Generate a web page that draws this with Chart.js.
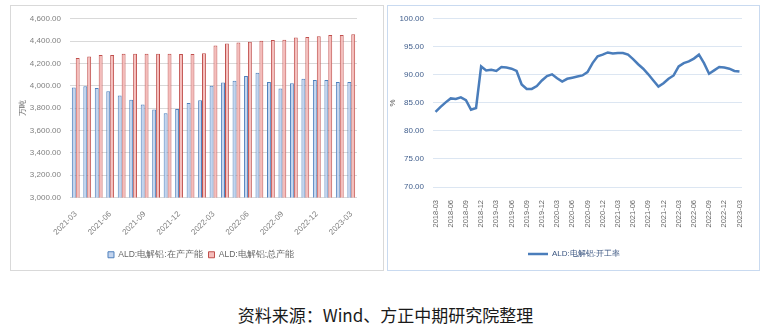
<!DOCTYPE html>
<html>
<head>
<meta charset="utf-8">
<script src="https://cdn.jsdelivr.net/npm/chart.js@4.4.0/dist/chart.umd.min.js"></script>
<style>
body{margin:0;background:#fff;width:771px;height:330px;position:relative;overflow:hidden;font-family:"Noto Sans CJK SC",sans-serif;}
.frame{position:absolute;box-sizing:border-box;}
canvas{position:absolute;}
#capFrame{left:10px;top:5px;width:374px;height:266px;border:1px solid #d9d9d9;}
#rateFrame{left:387px;top:5px;width:373px;height:266px;border:1px solid #c9daf0;}
#capChart{left:10px;top:5px;}
#rateChart{left:387px;top:5px;}
#source{position:absolute;left:0;width:771px;top:305px;line-height:20px;text-align:center;font-size:17px;color:#1a1a1a;}
</style>
</head>
<body>
<div class="frame" id="capFrame"></div>
<div class="frame" id="rateFrame"></div>
<canvas id="capChart" width="374" height="266"></canvas>
<canvas id="rateChart" width="373" height="266"></canvas>
<div id="source">资料来源：Wind、方正中期研究院整理</div>
<script>
// 电解铝产能（万吨），月度
var capMonths = ['2021-03','2021-04','2021-05','2021-06','2021-07','2021-08','2021-09','2021-10','2021-11','2021-12',
  '2022-01','2022-02','2022-03','2022-04','2022-05','2022-06','2022-07','2022-08','2022-09','2022-10','2022-11','2022-12',
  '2023-01','2023-02','2023-03'];
var runningCap = [3986,3995,3980,3951,3914,3876,3833,3787,3755,3793,3845,3871,4000,4029,4046,4087,4118,4035,3975,4023,4064,4052,4052,4035,4035];
var totalCap = [4248,4263,4277,4277,4286,4286,4286,4286,4286,4284,4284,4291,4361,4378,4387,4395,4404,4410,4412,4433,4438,4444,4456,4456,4462];

// 电解铝开工率（%），月度
var rateMonths = ['2018-03','2018-04','2018-05','2018-06','2018-07','2018-08','2018-09','2018-10','2018-11','2018-12',
  '2019-01','2019-02','2019-03','2019-04','2019-05','2019-06','2019-07','2019-08','2019-09','2019-10','2019-11','2019-12',
  '2020-01','2020-02','2020-03','2020-04','2020-05','2020-06','2020-07','2020-08','2020-09','2020-10','2020-11','2020-12',
  '2021-01','2021-02','2021-03','2021-04','2021-05','2021-06','2021-07','2021-08','2021-09','2021-10','2021-11','2021-12',
  '2022-01','2022-02','2022-03','2022-04','2022-05','2022-06','2022-07','2022-08','2022-09','2022-10','2022-11','2022-12',
  '2023-01','2023-02','2023-03'];
var runRate = [83.4,84.3,85.1,85.8,85.7,86.0,85.5,83.8,84.1,91.5,
  90.8,90.9,90.7,91.4,91.3,91.1,90.7,88.3,87.5,87.5,88.0,89.0,
  89.8,90.1,89.4,88.8,89.3,89.5,89.7,89.9,90.5,92.1,93.3,93.6,
  94.0,93.8,93.9,93.9,93.6,92.8,91.9,91.1,90.1,89.0,87.9,88.5,
  89.3,89.9,91.5,92.1,92.4,92.9,93.6,92.1,90.2,90.8,91.4,91.3,
  91.1,90.7,90.6];

function everyThird(v, i){
  return i % 3 === 0 ? this.getLabelForValue(v) : '';
}

// empty axis on the right, keeps the plot narrow while the legend stays centred on the panel
function spacer(w){
  return {
    type: 'linear', position: 'right', display: true,
    grid: {display: false}, border: {display: false}, ticks: {display: false},
    afterFit: function(s){ s.width = w; }
  };
}

new Chart(document.getElementById('capChart'), {
  type: 'bar',
  data: {
    labels: capMonths,
    datasets: [{
      label: 'ALD:电解铝:在产产能',
      data: runningCap,
      backgroundColor: '#c3d4ee',
      borderColor: '#4f81bd',
      borderWidth: 1,
      categoryPercentage: 0.68,
      barPercentage: 1
    }, {
      label: 'ALD:电解铝:总产能',
      data: totalCap,
      backgroundColor: '#f5bdbb',
      borderColor: '#c0504d',
      borderWidth: 1,
      categoryPercentage: 0.68,
      barPercentage: 1
    }]
  },
  options: {
    responsive: false,
    animation: false,
    layout: {padding: {left: 8, right: 0, top: 10, bottom: 2}},
    plugins: {
      tooltip: {enabled: false},
      legend: {
        position: 'bottom',
        labels: {boxWidth: 6, boxHeight: 6, padding: 6, color: '#666', font: {size: 8.5}}
      }
    },
    scales: {
      x: {
        grid: {display: false},
        border: {display: false},
        ticks: {autoSkip: false, minRotation: 45, maxRotation: 45, padding: 4, color: '#808080', font: {size: 8}, callback: everyThird},
        afterFit: function(s){ s.height = 47; }
      },
      y: {
        min: 3000,
        max: 4600,
        grid: {color: '#d9d9d9', drawTicks: false},
        border: {display: false},
        ticks: {
          stepSize: 200, padding: 9, color: '#808080', font: {size: 8},
          callback: function(v){ return v.toLocaleString('en-US', {minimumFractionDigits: 2}); }
        },
        title: {display: true, text: '万吨', color: '#666', font: {size: 8}, padding: 0},
        afterFit: function(s){ s.width = 52; }
      },
      pad: spacer(27)
    }
  }
});

new Chart(document.getElementById('rateChart'), {
  type: 'line',
  data: {
    labels: rateMonths,
    datasets: [{
      label: 'ALD:电解铝:开工率',
      data: runRate,
      borderColor: '#4a7dbb',
      backgroundColor: '#4a7dbb',
      borderWidth: 2.5,
      pointRadius: 0,
      tension: 0
    }]
  },
  options: {
    responsive: false,
    animation: false,
    layout: {padding: {left: 1, right: 0, top: 13, bottom: 3}},
    plugins: {
      tooltip: {enabled: false},
      legend: {
        position: 'bottom',
        labels: {usePointStyle: true, pointStyle: 'line', pointStyleWidth: 20, padding: 6, color: '#3a5580', font: {size: 8}}
      }
    },
    scales: {
      x: {
        offset: true,
        grid: {display: false},
        border: {display: false},
        ticks: {autoSkip: false, minRotation: 90, maxRotation: 90, padding: 5, color: '#666', font: {size: 7.5}, callback: everyThird},
        afterFit: function(s){ s.height = 57; }
      },
      y: {
        min: 70,
        max: 100,
        grid: {color: '#dce6f2', drawTicks: false},
        border: {display: false},
        ticks: {stepSize: 5, padding: 9, color: '#3f5d8c', font: {size: 8}, callback: function(v){ return v.toFixed(2); }},
        title: {display: true, text: '%', color: '#555', font: {size: 8}, padding: 0},
        afterFit: function(s){ s.width = 45; }
      },
      pad: spacer(18)
    }
  }
});
</script>
</body>
</html>
